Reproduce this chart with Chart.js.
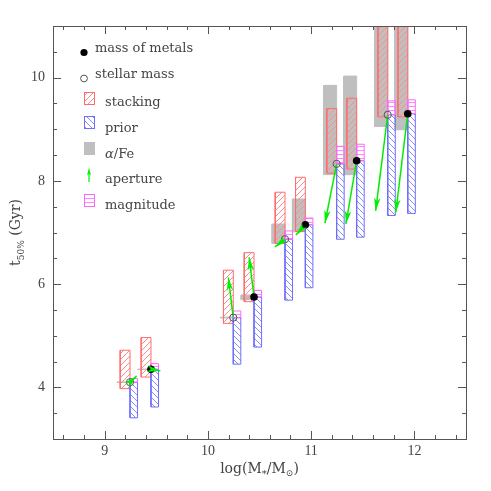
<!DOCTYPE html>
<html><head><meta charset="utf-8">
<script src="https://cdn.jsdelivr.net/npm/chart.js@4"></script>
<style>html,body{margin:0;padding:0;background:#fff}</style>
</head><body>
<canvas id="c" width="491" height="491"></canvas>
<script>
// ---------------- data ----------------
const binKind = ['stellar','metals','stellar','metals','stellar','metals','stellar','metals','stellar','metals'];
const logMass = [9.246, 9.449, 10.246, 10.447, 10.747, 10.944, 11.247, 11.441, 11.742, 11.936];
const t50     = [4.10, 4.35, 5.35, 5.75, 6.87, 7.15, 8.33, 8.39, 9.28, 9.30];
const stackLo = [3.975, 4.20, 5.24, 5.66, 6.79, 7.02, 8.15, 8.23, 9.24, 9.24];
const stackHi = [4.72, 4.965, 6.27, 6.61, 7.78, 8.07, 9.40, 9.60, 11.6, 11.6];
const priorLo = [3.41, 3.62, 4.45, 4.78, 5.69, 5.93, 6.87, 6.91, 7.33, 7.37];
const magnitudeHi = [4.17, 4.46, 5.48, 5.88, 7.03, 7.28, 8.67, 8.71, 9.55, 9.57];
const alphaFeLo = [4.095, 4.345, 5.345, 5.70, 6.79, 7.015, 8.12, 8.12, 9.055, 8.99];
const alphaFeHi = [4.105, 4.355, 5.36, 5.79, 7.165, 7.65, 9.85, 10.03, 11.6, 11.6];
const apertureLogMass = [9.31, 9.54, 10.198, 10.40, 10.65, 10.853, 11.134, 11.337, 11.625, 11.82];
const apertureT50     = [4.22, 4.32, 6.13, 6.52, 6.72, 6.95, 7.18, 7.165, 7.42, 7.39];
const xTickLabels = [9, 10, 11, 12];
const yTickLabels = [4, 6, 8, 10];
const legendLabels = ['mass of metals', 'stellar mass', 'stacking', 'prior', 'α/Fe', 'aperture', 'magnitude'];

// ---------------- styles ----------------
const STACK_W = 0.095, ALPHA_W = 0.125, PRIOR_W = 0.073;
const RED = '#ff6e6e', RED_H = '#ff8c8c', BLUE = '#6e6eff', BLUE_H = '#8c8cff';
const MAG = '#ff66ff', MAG_H = '#ff88ff', GRAY = '#bfbfbf', GREEN = '#00ee00';
const AXIS = '#555', TXT = '#444';
const SERIF = '"DejaVu Serif", serif';
const TICKFONT = '"Liberation Serif", serif';

const canvas = document.getElementById('c');
const mainCtx = canvas.getContext('2d');
function hatch(color, kind, size) {
  const c = document.createElement('canvas'); c.width = c.height = size;
  const g = c.getContext('2d'); g.strokeStyle = color; g.lineWidth = 1;
  g.beginPath();
  if (kind === '/') {
    g.moveTo(0, size); g.lineTo(size, 0);
    g.moveTo(-1, 1); g.lineTo(1, -1);
    g.moveTo(size - 1, size + 1); g.lineTo(size + 1, size - 1);
  } else if (kind === '\\') {
    g.moveTo(0, 0); g.lineTo(size, size);
    g.moveTo(size - 1, -1); g.lineTo(size + 1, 1);
    g.moveTo(-1, size - 1); g.lineTo(1, size + 1);
  } else {
    g.moveTo(0, size / 2 + 0.5); g.lineTo(size, size / 2 + 0.5);
  }
  g.stroke();
  return mainCtx.createPattern(c, 'repeat');
}
const redHatch = hatch(RED_H, '/', 6), blueHatch = hatch(BLUE_H, '\\', 6), magHatch = hatch(MAG_H, '-', 4);

function box(x0, x1, lo, hi, bg, border, order) {
  return {
    type: 'line',
    data: [{x: x0, y: lo}, {x: x1, y: lo}, {x: x1, y: hi}, {x: x0, y: hi}, {x: x0, y: lo}],
    fill: 'shape', backgroundColor: bg, borderColor: border, borderWidth: 1,
    pointRadius: 0, pointHoverRadius: 0, tension: 0, order: order
  };
}

const datasets = [];
for (let i = 0; i < logMass.length; i++) {
  const x = logMass[i];
  datasets.push(box(x - ALPHA_W, x, alphaFeLo[i], alphaFeHi[i], GRAY, GRAY, 6));
  datasets.push(box(x - STACK_W, x, stackLo[i], stackHi[i], redHatch, RED, 5));
  datasets.push(box(x, x + PRIOR_W, priorLo[i], t50[i], blueHatch, BLUE, 4));
  datasets.push(box(x, x + PRIOR_W, t50[i], magnitudeHi[i], magHatch, MAG, 3));
  datasets.push({
    type: 'line', arrow: true,
    data: [{x: x, y: t50[i]}, {x: apertureLogMass[i], y: apertureT50[i]}],
    borderColor: GREEN, borderWidth: 1.5, pointRadius: 0, fill: false, order: 2
  });
}
const idxS = binKind.map((k, i) => k === 'stellar' ? i : -1).filter(i => i >= 0);
const idxM = binKind.map((k, i) => k === 'metals' ? i : -1).filter(i => i >= 0);
datasets.push({
  type: 'scatter', data: idxS.map(i => ({x: logMass[i], y: t50[i]})),
  pointRadius: 3.6, backgroundColor: 'rgba(0,0,0,0)', borderColor: '#555', borderWidth: 1, order: 1
});
datasets.push({
  type: 'scatter', data: idxM.map(i => ({x: logMass[i], y: t50[i]})),
  pointRadius: 3.8, backgroundColor: '#000', borderColor: '#000', borderWidth: 0, order: 1
});

function arrowHead(ctx, x0, y0, x1, y1, len, half) {
  const a = Math.atan2(y1 - y0, x1 - x0);
  const ca = Math.cos(a), sa = Math.sin(a);
  const bx = x1 - len * ca, by = y1 - len * sa;
  const nx = x1 - len * 0.75 * ca, ny = y1 - len * 0.75 * sa;
  ctx.beginPath();
  ctx.moveTo(x1, y1);
  ctx.lineTo(bx - half * sa, by + half * ca);
  ctx.lineTo(nx, ny);
  ctx.lineTo(bx + half * sa, by - half * ca);
  ctx.closePath();
  ctx.fill();
}

const decor = {
  id: 'decor',
  afterDatasetsDraw(chart) {
    const ctx = chart.ctx;
    ctx.save();
    ctx.fillStyle = GREEN;
    chart.data.datasets.forEach((ds, i) => {
      if (!ds.arrow) return;
      const m = chart.getDatasetMeta(i);
      const p0 = m.data[0], p1 = m.data[1];
      arrowHead(ctx, p0.x, p0.y, p1.x, p1.y, 13, 3.2);
    });
    ctx.restore();
  },
  afterDraw(chart) {
    const ctx = chart.ctx;
    const a = chart.chartArea;
    const xs = chart.scales.x, ys = chart.scales.y;
    ctx.save();
    // frame
    ctx.strokeStyle = AXIS; ctx.lineWidth = 1;
    ctx.strokeRect(Math.round(a.left) + 0.5, Math.round(a.top) + 0.5,
                   Math.round(a.right - a.left), Math.round(a.bottom - a.top));
    // inward ticks
    ctx.beginPath();
    for (let k = 43; k <= 62; k++) {
      const v = k / 5;
      const L = (k % 5 === 0) ? 8 : 4;
      const px = Math.round(xs.getPixelForValue(v)) + 0.5;
      ctx.moveTo(px, a.bottom); ctx.lineTo(px, a.bottom - L);
      ctx.moveTo(px, a.top); ctx.lineTo(px, a.top + L);
    }
    for (let k = 7; k <= 21; k++) {
      const v = k / 2;
      const L = (k % 4 === 0) ? 8 : 4;
      const py = Math.round(ys.getPixelForValue(v)) + 0.5;
      ctx.moveTo(a.left, py); ctx.lineTo(a.left + L, py);
      ctx.moveTo(a.right, py); ctx.lineTo(a.right - L, py);
    }
    ctx.stroke();

    // axis titles
    ctx.fillStyle = TXT;
    ctx.textBaseline = 'alphabetic';
    const parts = [['log(M', 14, 0], ['*', 10, 4], ['/M', 14, 0], ['⊙', 9, 3], [')', 14, 0]];
    let total = 0;
    parts.forEach(p => { ctx.font = p[1] + 'px ' + SERIF; total += ctx.measureText(p[0]).width; });
    let cx = (a.left + a.right) / 2 - total / 2;
    parts.forEach(p => { ctx.font = p[1] + 'px ' + SERIF; ctx.fillText(p[0], cx, 473 + p[2]); cx += ctx.measureText(p[0]).width; });
    ctx.save();
    ctx.translate(20, (a.top + a.bottom) / 2);
    ctx.rotate(-Math.PI / 2);
    const yparts = [['t', 14, 0], ['50%', 9, 4], [' (Gyr)', 14, 0]];
    total = 0;
    yparts.forEach(p => { ctx.font = p[1] + 'px ' + SERIF; total += ctx.measureText(p[0]).width; });
    cx = -total / 2;
    yparts.forEach(p => { ctx.font = p[1] + 'px ' + SERIF; ctx.fillText(p[0], cx, p[2]); cx += ctx.measureText(p[0]).width; });
    ctx.restore();

    // legend
    ctx.textBaseline = 'middle';
    ctx.fillStyle = '#000';
    ctx.beginPath(); ctx.arc(84, 52.5, 3.6, 0, Math.PI * 2); ctx.fill();
    ctx.strokeStyle = '#555';
    ctx.beginPath(); ctx.arc(84, 78.5, 3.4, 0, Math.PI * 2); ctx.stroke();
    const boxes = [[92.5, redHatch, RED], [116.5, blueHatch, BLUE], [142.5, GRAY, GRAY], [194.5, magHatch, MAG]];
    boxes.forEach(b => {
      ctx.fillStyle = b[1]; ctx.fillRect(84.5, b[0], 10, 12);
      ctx.strokeStyle = b[2]; ctx.strokeRect(84.5, b[0], 10, 12);
    });
    ctx.strokeStyle = GREEN; ctx.fillStyle = GREEN; ctx.lineWidth = 1.2;
    ctx.beginPath(); ctx.moveTo(89, 182); ctx.lineTo(89, 172); ctx.stroke();
    arrowHead(ctx, 89, 182, 89, 167.5, 8, 2);
    ctx.fillStyle = TXT;
    const ty = [48.5, 74.5, 102.5, 128.5, 154.5, 180, 205.5];
    legendLabels.forEach((t, i) => {
      const x = i < 2 ? 95 : 105;
      if (t === 'α/Fe') {
        ctx.font = 'italic 13px ' + SERIF; ctx.fillText('α', x, ty[i]);
        const w = ctx.measureText('α').width;
        ctx.font = '13px ' + SERIF; ctx.fillText('/Fe', x + w, ty[i]);
      } else {
        ctx.font = '13px ' + SERIF;
        ctx.fillText(t, x, ty[i]);
      }
    });
    ctx.restore();
  }
};

new Chart(canvas, {
  type: 'line',
  data: {datasets: datasets},
  options: {
    responsive: false, animation: false, devicePixelRatio: 1,
    events: [],
    layout: {padding: {left: 0, right: 25, top: 26, bottom: 0}},
    plugins: {legend: {display: false}, tooltip: {enabled: false}},
    scales: {
      x: {
        type: 'linear', min: 8.5, max: 12.5,
        grid: {display: false, drawTicks: false}, border: {display: false},
        afterBuildTicks: s => { s.ticks = xTickLabels.map(v => ({value: v})); },
        afterFit: s => { s.height = 52; },
        ticks: {padding: 4, color: TXT, font: {family: TICKFONT, size: 14}, maxRotation: 0}
      },
      y: {
        type: 'linear', min: 3, max: 11,
        grid: {display: false, drawTicks: false}, border: {display: false},
        afterBuildTicks: s => { s.ticks = yTickLabels.map(v => ({value: v})); },
        afterFit: s => { s.width = 53; },
        ticks: {padding: 8, color: TXT, font: {family: TICKFONT, size: 14}}
      }
    }
  },
  plugins: [decor]
});
</script>
</body></html>
